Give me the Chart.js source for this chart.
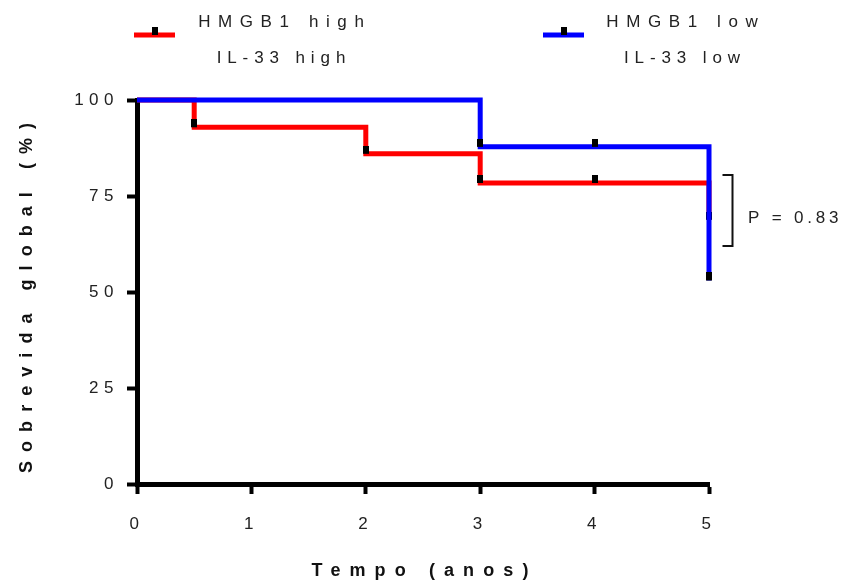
<!DOCTYPE html>
<html><head><meta charset="utf-8">
<script src="https://cdn.jsdelivr.net/npm/chart.js@4.4.0/dist/chart.umd.min.js"></script>
<style>html,body{margin:0;padding:0;background:#fff;} canvas{display:block;}</style>
</head><body>
<canvas id="c" width="846" height="584"></canvas>
<script>
// ---- data ----
const highTimes = [0, 0.5, 2, 3, 4, 5];
const highSurvival = [100, 92.9, 86.0, 78.4, 78.4, 68.8];
const highCensor = [0, 1, 1, 1, 1, 1];
const lowTimes = [0, 3, 4, 5];
const lowSurvival = [100, 87.8, 87.8, 53.0];
const lowCensor = [0, 1, 1, 1];
const xTickValues = [0, 1, 2, 3, 4, 5];
const xTickLabels = ['0', '1', '2', '3', '4', '5'];
const yTickValues = [0, 25, 50, 75, 100];
const yTickLabels = ['0', '25', '50', '75', '100'];
const highNames = ['HMGB1 high', 'IL-33 high'];
const lowNames = ['HMGB1 low', 'IL-33 low'];
const pValueText = 'P = 0.83';
const xTitle = 'Tempo (anos)';
const yTitle = 'Sobrevida global (%)';

const FONT = '"Liberation Sans", Arial, sans-serif';
const RED = '#ff0000', BLUE = '#0000ff', TXT = '#222222';

// censor mark: black block sitting on top of the line
const mark = document.createElement('canvas');
mark.width = 6; mark.height = 16;
const mctx = mark.getContext('2d');
mctx.fillStyle = '#000'; mctx.fillRect(0, 0, 6, 8);

function pts(xs, ys) { return xs.map((x, i) => ({ x: x, y: ys[i] })); }

function spacedText(ctx, text, x, y, spacing, align) {
  ctx.letterSpacing = spacing + 'px';
  const w = ctx.measureText(text).width;
  const hasLS = ('letterSpacing' in ctx);
  const vis = hasLS ? w - spacing : w;
  let sx = x;
  if (align === 'center') sx = x - vis / 2;
  else if (align === 'right') sx = x - vis;
  ctx.textAlign = 'left';
  ctx.fillText(text, sx, y);
  ctx.letterSpacing = '0px';
}

const spacingPlugin = {
  id: 'spacing',
  beforeDraw(chart) { chart.ctx.letterSpacing = '5.5px'; },
  afterDraw(chart) {
    const ctx = chart.ctx;
    const area = chart.chartArea;
    ctx.save();
    ctx.letterSpacing = '0px';
    ctx.fillStyle = TXT;
    ctx.textBaseline = 'alphabetic';

    // legend
    const items = [
      { color: RED, x0: 134, x1: 175, cx: 281, names: highNames },
      { color: BLUE, x0: 543, x1: 584, cx: 682, names: lowNames }
    ];
    items.forEach(it => {
      ctx.strokeStyle = it.color; ctx.lineWidth = 5; ctx.lineCap = 'butt';
      ctx.beginPath(); ctx.moveTo(it.x0, 35); ctx.lineTo(it.x1, 35); ctx.stroke();
      ctx.drawImage(mark, (it.x0 + it.x1) / 2 - 3, 35 - 8);
      ctx.fillStyle = TXT;
      ctx.font = '17px ' + FONT;
      spacedText(ctx, it.names[0], it.cx, 26.5, 7.6, 'center');
      spacedText(ctx, it.names[1], it.cx, 62.5, 5.9, 'center');
    });

    // p-value bracket
    const bx = area.right + 23.5;
    const yt = 175, yb = 246;
    ctx.strokeStyle = '#111'; ctx.lineWidth = 2;
    ctx.beginPath();
    ctx.moveTo(bx - 10, yt); ctx.lineTo(bx, yt); ctx.lineTo(bx, yb); ctx.lineTo(bx - 10, yb);
    ctx.stroke();
    ctx.font = '17px ' + FONT;
    spacedText(ctx, pValueText, area.right + 39, 223, 3.8, 'left');

    // axis titles
    ctx.font = 'bold 18px ' + FONT;
    ctx.fillStyle = '#111';
    spacedText(ctx, xTitle, (area.left + area.right) / 2 - 3, 576, 9.1, 'center');
    ctx.save();
    ctx.translate(31.5, 298);
    ctx.rotate(-Math.PI / 2);
    spacedText(ctx, yTitle, 0, 0, 9.05, 'center');
    ctx.restore();
    ctx.restore();
  }
};

const commonGrid = { display: true, drawOnChartArea: false, drawTicks: true, tickLength: 10, tickWidth: 4, tickColor: '#000', color: '#000' };

new Chart(document.getElementById('c'), {
  type: 'line',
  data: {
    datasets: [
      { label: lowNames.join(' / '), data: pts(lowTimes, lowSurvival), borderColor: BLUE, backgroundColor: BLUE,
        borderWidth: 5, stepped: true, fill: false, borderJoinStyle: 'miter', borderCapStyle: 'butt', clip: false,
        pointStyle: mark, pointRadius: lowCensor.map(c => c ? 4 : 0), pointHoverRadius: 0, order: 0 },
      { label: highNames.join(' / '), data: pts(highTimes, highSurvival), borderColor: RED, backgroundColor: RED,
        borderWidth: 5, stepped: true, fill: false, borderJoinStyle: 'miter', borderCapStyle: 'butt', clip: false,
        pointStyle: mark, pointRadius: highCensor.map(c => c ? 4 : 0), pointHoverRadius: 0, order: 1 }
    ]
  },
  options: {
    responsive: false,
    animation: false,
    events: [],
    layout: { padding: { left: 0, top: 100, right: 137, bottom: 0 } },
    plugins: { legend: { display: false }, tooltip: { enabled: false } },
    scales: {
      x: {
        type: 'linear', min: 0, max: 5,
        afterBuildTicks: s => { s.ticks = xTickValues.map(v => ({ value: v })); },
        ticks: { color: TXT, font: { family: FONT, size: 17 }, padding: 20, maxRotation: 0,
                 callback: v => xTickLabels[xTickValues.indexOf(v)] },
        grid: commonGrid,
        border: { display: true, color: '#000', width: 5 },
        afterFit: s => { s.height = 100; }
      },
      y: {
        type: 'linear', min: 0, max: 100,
        afterBuildTicks: s => { s.ticks = yTickValues.map(v => ({ value: v })); },
        ticks: { color: TXT, font: { family: FONT, size: 17 }, padding: 8,
                 callback: v => yTickLabels[yTickValues.indexOf(v)] },
        grid: commonGrid,
        border: { display: true, color: '#000', width: 5 },
        afterFit: s => { s.width = 137; }
      }
    }
  },
  plugins: [spacingPlugin]
});
</script>
</body></html>
